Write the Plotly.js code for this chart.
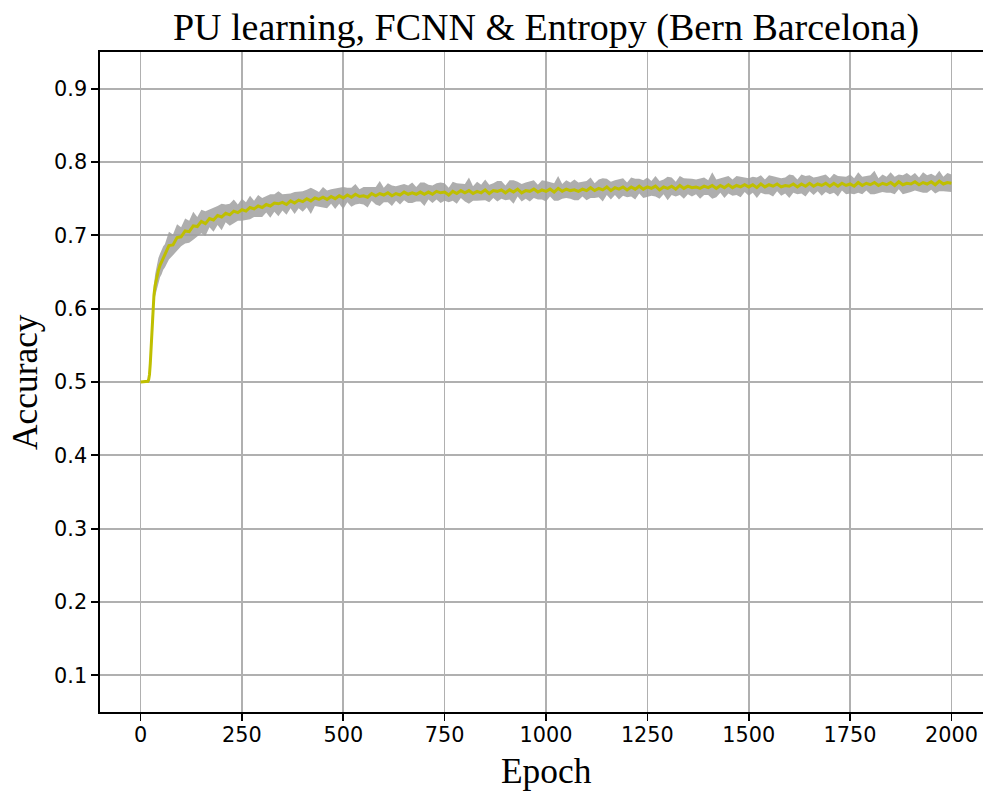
<!DOCTYPE html>
<html>
<head>
<meta charset="utf-8">
<script src="https://cdn.plot.ly/plotly-3.0.1.min.js"></script>
<style>
html,body{margin:0;padding:0;overflow:hidden;background:#fff;width:983px;height:793px;}
#chart{width:992px;height:793px;}
</style>
</head>
<body>
<div id="chart"></div>
<script>
const titleText = "PU learning, FCNN & Entropy (Bern Barcelona)";
const xLabel = "Epoch";
const yLabel = "Accuracy";
const xTicks = [0, 250, 500, 750, 1000, 1250, 1500, 1750, 2000];
const yTicks = [0.1, 0.2, 0.3, 0.4, 0.5, 0.6, 0.7, 0.8, 0.9];

const epochs = [0,5,10,15,18,20,22,24,26,28,30,33,36,40,44,48,52,56,
60,70,80,90,100,110,120,130,140,150,160,170,180,190,200,
210,220,230,240,250,260,270,280,290,300,
310,320,330,340,350,360,370,380,390,400,
410,420,430,440,450,460,470,480,490,500,
510,520,530,540,550,560,570,580,590,600,
610,620,630,640,650,660,670,680,690,700,
710,720,730,740,750,760,770,780,790,800,
810,820,830,840,850,860,870,880,890,900,
910,920,930,940,950,960,970,980,990,1000,
1010,1020,1030,1040,1050,1060,1070,1080,1090,1100,
1110,1120,1130,1140,1150,1160,1170,1180,1190,1200,
1210,1220,1230,1240,1250,1260,1270,1280,1290,1300,
1310,1320,1330,1340,1350,1360,1370,1380,1390,1400,
1410,1420,1430,1440,1450,1460,1470,1480,1490,1500,
1510,1520,1530,1540,1550,1560,1570,1580,1590,1600,
1610,1620,1630,1640,1650,1660,1670,1680,1690,1700,
1710,1720,1730,1740,1750,1760,1770,1780,1790,1800,
1810,1820,1830,1840,1850,1860,1870,1880,1890,1900,
1910,1920,1930,1940,1950,1960,1970,1980,1990,2000];

const meanAcc = [0.500,0.500,0.500,0.500,0.501,0.503,0.510,0.525,0.550,0.578,0.600,0.618,0.632,0.643,0.652,0.659,0.664,0.669,
0.672,0.686,0.687,0.697,0.698,0.706,0.705,0.713,0.712,0.719,0.716,0.723,0.721,0.727,0.725,
0.730,0.728,0.733,0.731,0.735,0.733,0.738,0.736,0.740,0.738,
0.742,0.740,0.744,0.743,0.745,0.742,0.747,0.744,0.748,0.746,
0.750,0.747,0.751,0.749,0.752,0.749,0.753,0.750,0.754,0.751,
0.755,0.752,0.756,0.753,0.754,0.752,0.757,0.754,0.757,0.755,
0.758,0.754,0.757,0.755,0.759,0.756,0.758,0.756,0.759,0.756,
0.759,0.756,0.760,0.758,0.759,0.755,0.760,0.757,0.761,0.758,
0.761,0.757,0.760,0.758,0.762,0.757,0.761,0.760,0.762,0.758,
0.762,0.759,0.763,0.758,0.761,0.760,0.763,0.759,0.762,0.760,
0.763,0.759,0.764,0.760,0.763,0.761,0.762,0.760,0.763,0.761,
0.765,0.761,0.764,0.762,0.766,0.761,0.765,0.763,0.766,0.762,
0.766,0.763,0.767,0.763,0.766,0.764,0.767,0.762,0.766,0.764,
0.767,0.763,0.768,0.764,0.767,0.765,0.766,0.764,0.767,0.765,
0.768,0.764,0.768,0.765,0.769,0.765,0.768,0.766,0.769,0.766,
0.769,0.765,0.770,0.766,0.769,0.767,0.770,0.766,0.768,0.767,
0.770,0.766,0.770,0.767,0.771,0.767,0.770,0.768,0.771,0.767,
0.771,0.767,0.771,0.768,0.770,0.767,0.772,0.768,0.771,0.769,
0.772,0.768,0.771,0.769,0.772,0.768,0.773,0.769,0.771,0.770,
0.773,0.769,0.772,0.770,0.773,0.769,0.774,0.770,0.772,0.771];

const stdAcc = [0.001,0.001,0.001,0.002,0.003,0.004,0.006,0.008,0.010,0.012,0.013,0.014,0.015,0.016,0.017,0.016,0.017,0.016,
0.016,0.019,0.014,0.018,0.013,0.017,0.015,0.019,0.013,0.016,
0.017,0.012,0.016,0.013,0.018,0.012,0.015,0.016,0.011,0.015,
0.012,0.016,0.011,0.015,0.013,0.011,0.016,0.012,0.017,0.011,
0.014,0.010,0.015,0.011,0.014,0.012,0.018,0.011,0.010,0.014,
0.012,0.010,0.014,0.011,0.015,0.010,0.013,0.014,0.010,0.012,
0.014,0.010,0.012,0.017,0.010,0.013,0.014,0.010,0.013,0.011,
0.012,0.014,0.010,0.013,0.016,0.010,0.012,0.011,0.014,0.012,
0.010,0.013,0.014,0.010,0.012,0.018,0.010,0.013,0.011,0.014,
0.012,0.010,0.014,0.012,0.010,0.013,0.016,0.010,0.012,0.011,
0.014,0.012,0.010,0.013,0.014,0.010,0.012,0.017,0.010,0.012,
0.011,0.014,0.012,0.010,0.013,0.014,0.010,0.012,0.016,0.011,
0.012,0.010,0.014,0.012,0.010,0.013,0.014,0.010,0.012,0.013,
0.010,0.014,0.012,0.010,0.016,0.012,0.010,0.013,0.014,0.011,
0.012,0.010,0.014,0.012,0.010,0.018,0.012,0.010,0.014,0.012,
0.011,0.013,0.014,0.010,0.012,0.011,0.014,0.012,0.010,0.013,
0.014,0.010,0.012,0.011,0.016,0.012,0.010,0.013,0.014,0.011,
0.012,0.010,0.014,0.012,0.011,0.013,0.014,0.010,0.012,0.013,
0.011,0.014,0.012,0.010,0.013,0.016,0.010,0.012,0.011,0.014,
0.012,0.010,0.013,0.014,0.011,0.012,0.010,0.014,0.012,0.011,
0.012,0.014,0.010,0.013,0.012];

const lower = meanAcc.map((m, i) => m - stdAcc[i]);
const upper = meanAcc.map((m, i) => m + stdAcc[i]);

const traces = [
  {x: epochs, y: lower, type: 'scatter', mode: 'lines', line: {width: 0, color: 'rgba(0,0,0,0)'}, hoverinfo: 'skip', showlegend: false},
  {x: epochs, y: upper, type: 'scatter', mode: 'lines', fill: 'tonexty', fillcolor: 'rgba(160,160,160,0.85)', line: {width: 0, color: 'rgba(0,0,0,0)'}, hoverinfo: 'skip', showlegend: false},
  {x: epochs, y: meanAcc, type: 'scatter', mode: 'lines', line: {width: 3, color: '#bfbf00'}, showlegend: false}
];

const serif = 'Liberation Serif, Times New Roman, serif';
const sans = 'DejaVu Sans, sans-serif';

const layout = {
  width: 992, height: 793,
  margin: {l: 100, r: 0, t: 52, b: 81},
  paper_bgcolor: '#fff', plot_bgcolor: '#fff',
  showlegend: false,
  title: {text: titleText, font: {family: serif, size: 38, color: '#000'}, xref: 'paper', x: 0.5, xanchor: 'center', yref: 'container', y: 1 - 26.6/793, yanchor: 'middle'},
  xaxis: {
    range: [-100, 2100], tickvals: xTicks, ticktext: xTicks.map(String),
    showgrid: true, gridcolor: '#b0b0b0', gridwidth: 1.7, zeroline: false,
    showline: true, linecolor: '#000', linewidth: 1.7, mirror: true,
    ticks: 'outside', ticklen: 7, tickwidth: 1.7, tickcolor: '#000',
    tickfont: {family: sans, size: 20.8, color: '#000'}, ticklabelstandoff: -4
  },
  yaxis: {
    range: [0.05, 0.95], tickvals: yTicks, ticktext: yTicks.map(v => v.toFixed(1)),
    showgrid: true, gridcolor: '#b0b0b0', gridwidth: 1.7, zeroline: false,
    showline: true, linecolor: '#000', linewidth: 1.7, mirror: true,
    ticks: 'outside', ticklen: 7, tickwidth: 1.7, tickcolor: '#000',
    tickfont: {family: sans, size: 20.8, color: '#000'}, ticklabelstandoff: 0
  },
  annotations: [
    {text: xLabel, xref: 'paper', yref: 'paper', x: 0.5, y: -(770.5 - 712)/660, xanchor: 'center', yanchor: 'middle', showarrow: false, font: {family: serif, size: 35.4, color: '#000'}},
    {text: yLabel, xref: 'paper', yref: 'paper', x: (25 - 100)/892, y: 0.5, xanchor: 'center', yanchor: 'middle', textangle: -90, showarrow: false, font: {family: serif, size: 35.4, color: '#000'}}
  ]
};

Plotly.newPlot('chart', traces, layout, {displayModeBar: false, staticPlot: true});
</script>
</body>
</html>
